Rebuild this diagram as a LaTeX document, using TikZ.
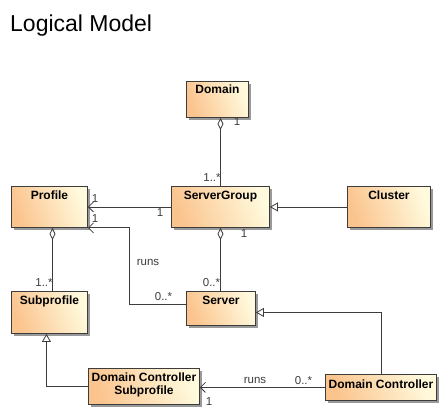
\documentclass[tikz,border=0pt]{standalone}
\usepackage{fontspec}
\setmainfont{Liberation Sans}
\usetikzlibrary{arrows.meta,shadows,calc}
\definecolor{boxA}{HTML}{FBC48E}
\definecolor{boxB}{HTML}{FFFADD}
\definecolor{ink}{HTML}{3C3C3C}
\tikzset{
 cls/.style={draw=ink, line width=0.9pt, left color=boxA, right color=boxB, shading angle=110, inner sep=0pt,
   drop shadow={shadow xshift=3pt, shadow yshift=-3pt, fill=black!40, opacity=1}},
 clstext/.style={font=\bfseries\fontsize{12}{13.5}\selectfont, inner sep=0pt, anchor=north, align=center},
 mult/.style={font=\fontsize{11.5}{13}\selectfont, inner sep=0pt, text=ink},
 conn/.style={draw=ink, line width=0.8pt},
 aggr/.style={conn, {Diamond[open, length=12pt, width=6pt, fill=white]}-},
 nav/.style={conn, -{Straight Barb[length=5pt, width=10pt]}},
 gen/.style={conn, -{Triangle[open, length=8pt, width=9pt, fill=white]}},
}
\newcommand\umlbox[7]{%
 \node[cls, anchor=north west, minimum width={(#4-#2)*1pt}, minimum height={(#5-#3)*1pt}] (#1) at (#2,#3) {};
 \node[clstext] (#1-t) at ($(#1.north)+(0,#7)$) {#6};}
\begin{document}
\begin{tikzpicture}[x=1pt, y=-1pt]
\useasboundingbox (0,0) rectangle (446,419);
\node[anchor=base west, inner sep=0pt, font=\fontsize{23}{26}\selectfont] (title) at (10,32) {Logical Model};

\umlbox{domain}{186}{81}{248}{117}{Domain}{4}
\umlbox{profile}{11}{186}{87}{227}{Profile}{4.5}
\umlbox{sg}{171}{186}{269}{227}{ServerGroup}{4.5}
\umlbox{cluster}{347}{186}{430}{227}{Cluster}{4.5}
\umlbox{subprofile}{11}{291}{87}{333}{Subprofile}{4.5}
\umlbox{server}{186}{291}{255}{325}{Server}{4.5}
\umlbox{dcs}{88}{368}{199}{404}{Domain Controller\\Subprofile}{4.5}
\umlbox{dc}{325}{374}{436}{400}{Domain Controller}{6}

\coordinate (bend) at (129,0);

\draw[aggr] (sg.north |- domain.south) -- (sg.north);
\draw[nav] (sg.west) -- (profile.east);
\draw[gen] (cluster.west) -- (sg.east);
\draw[aggr] (sg.south) -- (sg.south |- server.north);
\draw[aggr] ([xshift=3pt]profile.south) -- ([xshift=3pt]profile.south |- subprofile.north);
\draw[nav] ([yshift=4pt]server.west) -| (bend |- profile.south east) -- (profile.south east);
\draw[gen] (dc.north) |- ([yshift=-4pt]server.east);
\draw[gen] (dcs.west) -| ([xshift=-3pt]subprofile.south);
\draw[nav] (dc.west) -- (dc.west -| dcs.east);

\node[mult] (m1) at (237,121.5) {1};
\node[mult] (m2) at (212,177.5) {1..*};
\node[mult] (m3) at (95,198.5) {1};
\node[mult] (m4) at (160,213) {1};
\node[mult] (m5) at (95,219) {1};
\node[mult] (m6) at (244,234) {1};
\node[mult] (m7) at (148,262) {runs};
\node[mult] (m8) at (163.5,297) {0..*};
\node[mult] (m9) at (44,282.5) {1..*};
\node[mult] (m10) at (211.5,282.5) {0..*};
\node[mult] (m11) at (255,380.5) {runs};
\node[mult] (m12) at (303.5,380.5) {0..*};
\node[mult] (m13) at (209,401.5) {1};
\end{tikzpicture}
\end{document}
